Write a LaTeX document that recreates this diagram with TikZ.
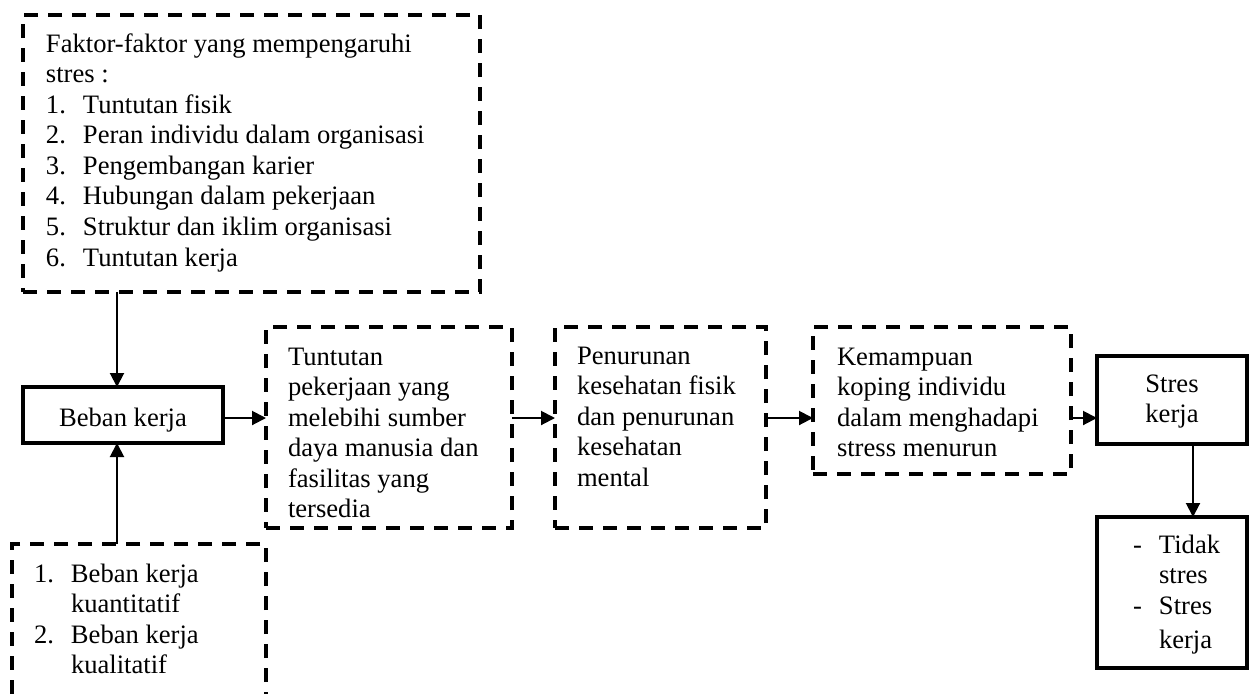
\documentclass[tikz,border=0pt]{standalone}
\usepackage{fontspec}
\setmainfont{Liberation Serif}
\usetikzlibrary{arrows.meta}
\newcommand\itm[3][18.5pt]{\hbox{\makebox[#1][l]{#2}#3}}
\tikzset{
  dbox/.style={draw, line width=1.9pt, dash pattern=on 7pt off 5pt, inner sep=0pt, outer sep=0pt, anchor=north west},
  sbox/.style={draw, line width=2pt, inner sep=0pt, outer sep=0pt, anchor=north west},
  txt/.style={inner sep=0pt, outer sep=0pt, anchor=base west, font=\fontsize{13.3pt}{15.29pt}\selectfont},
  ctxt/.style={txt, anchor=base},
  arr/.style={line width=1pt, -{Triangle[length=7pt,width=7pt]}}
}
\begin{document}
\begin{tikzpicture}[x=0.5pt,y=-0.5pt]
\clip (0,0) rectangle (1254,693);
\fill[white] (0,0) rectangle (1254,693);
% boxes
\node[dbox, minimum width=228.5pt, minimum height=138.5pt] (A) at (23,15) {};
\node[sbox, minimum width=100pt, minimum height=28pt] (Bk) at (23,387) {};
\node[dbox, minimum width=123pt, minimum height=100.5pt] (B) at (266,327) {};
\node[dbox, minimum width=105.5pt, minimum height=100.5pt] (C) at (555,327) {};
\node[dbox, minimum width=129pt, minimum height=73.5pt] (E) at (813,327) {};
\node[sbox, minimum width=75pt, minimum height=44pt] (S) at (1097,356) {};
\node[sbox, minimum width=75pt, minimum height=75.5pt] (F) at (1097,517) {};
\node[dbox, minimum width=127pt, minimum height=110pt] (D) at (12,544) {};
% texts
\node[txt] (tA) at (46,52) {\vtop{\hbox{Faktor-faktor yang mempengaruhi}\hbox{stres :}%
  \itm{1.}{Tuntutan fisik}\itm{2.}{Peran individu dalam organisasi}\itm{3.}{Pengembangan karier}%
  \itm{4.}{Hubungan dalam pekerjaan}\itm{5.}{Struktur dan iklim organisasi}\itm{6.}{Tuntutan kerja}}};
\node[ctxt] (tBk) at (123,426) {Beban kerja};
\node[txt] (tB) at (288,365) {\vtop{\hbox{Tuntutan}\hbox{pekerjaan yang}\hbox{melebihi sumber}\hbox{daya manusia dan}\hbox{fasilitas yang}\hbox{tersedia}}};
\node[txt] (tC) at (577,364) {\vtop{\hbox{Penurunan}\hbox{kesehatan fisik}\hbox{dan penurunan}\hbox{kesehatan}\hbox{mental}}};
\node[txt] (tE) at (837,365) {\vtop{\hbox{Kemampuan}\hbox{koping individu}\hbox{dalam menghadapi}\hbox{stress menurun}}};
\node[ctxt] (tS) at (1172,392) {\vtop{\halign{\hfil#\hfil\cr Stres\cr kerja\cr}}};
\node[txt] (tF) at (1133,553) {\vtop{\itm[13pt]{-}{Tidak}\itm[13pt]{}{stres}\itm[13pt]{-}{Stres}\kern1.8pt\itm[13pt]{}{kerja}}};
\node[txt] (tD) at (34,582) {\vtop{\itm{1.}{Beban kerja}\itm{}{kuantitatif}\itm{2.}{Beban kerja}\itm{}{kualitatif}}};
% connectors
\coordinate (xa) at (117,0);
\coordinate (xb) at (1193,0);
\coordinate (ya) at (0,418);
\draw[arr] (A.south -| xa) -- (Bk.north -| xa);
\draw[arr] (D.north -| xa) -- (Bk.south -| xa);
\draw[arr] (Bk.east |- ya) -- (B.west |- ya);
\draw[arr] (B.east |- ya) -- (C.west |- ya);
\draw[arr] (C.east |- ya) -- (E.west |- ya);
\draw[arr] (E.east |- ya) -- (S.west |- ya);
\draw[arr] (S.south -| xb) -- (F.north -| xb);
\end{tikzpicture}
\end{document}
